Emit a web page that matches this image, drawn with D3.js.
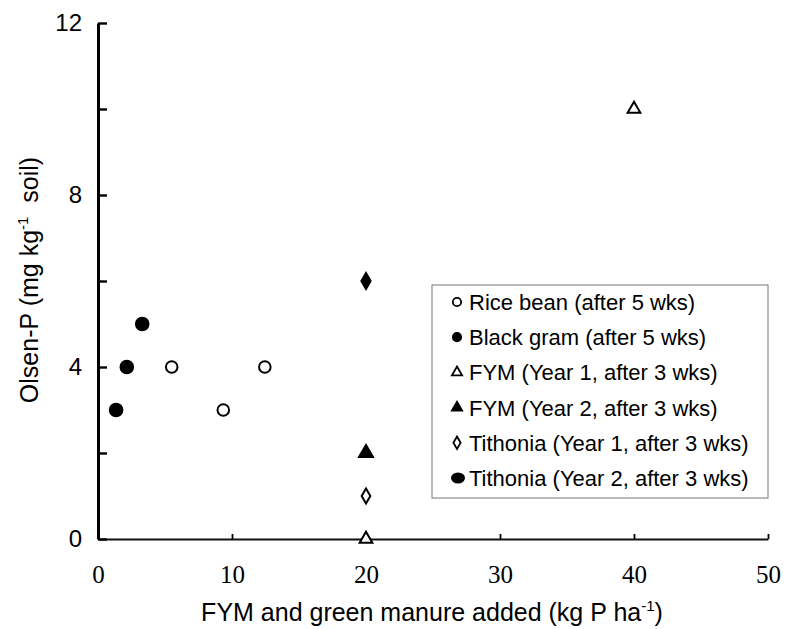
<!DOCTYPE html>
<html><head><meta charset="utf-8">
<script src="https://cdn.jsdelivr.net/npm/d3@7"></script>
<style>body{margin:0;background:#fff}svg{display:block}</style>
</head><body>
<svg id="c" width="785" height="629"></svg>
<script>
// Data
const riceBeanX = [5.5, 9.35, 12.45];
const riceBeanY = [4, 3, 4];
const blackGramX = [1.35, 2.15, 3.3];
const blackGramY = [3, 4, 5];
const fymY1X = [20, 40];
const fymY1Y = [0, 10];
const fymY2X = [20];
const fymY2Y = [2];
const tithY1X = [20];
const tithY1Y = [1];
const tithY2X = [20];
const tithY2Y = [6];
const xTicks = [0, 10, 20, 30, 40, 50];
const yTicks = [0, 4, 8, 12];
const yMinorTicks = [0, 2, 4, 6, 8, 10, 12];
const legendLabels = [
  "Rice bean (after 5 wks)",
  "Black gram  (after 5 wks)",
  "FYM (Year 1, after 3 wks)",
  "FYM (Year 2, after 3 wks)",
  "Tithonia (Year 1, after 3 wks)",
  "Tithonia (Year 2, after 3 wks)"
];

const sans = "Liberation Sans, Arial, sans-serif";
const svg = d3.select("#c");
const x = d3.scaleLinear().domain([0, 50]).range([98, 768]);
const y = d3.scaleLinear().domain([0, 12]).range([539, 23]);

// axes
const gx = svg.append("g").attr("transform", `translate(0,${y(0)})`)
  .call(d3.axisBottom(x).tickValues(xTicks).tickSizeInner(-5).tickSizeOuter(0).tickPadding(26).tickFormat(d3.format("d")));
gx.select(".domain").attr("stroke", "#111").attr("stroke-width", 2.2);
gx.selectAll(".tick line").attr("stroke-width", 1.8);
gx.selectAll("text").attr("font-family", "Liberation Serif, serif").attr("font-size", 25).attr("fill", "#000");

const gy = svg.append("g").attr("transform", `translate(${x(0)},0)`)
  .call(d3.axisLeft(y).tickValues(yMinorTicks).tickSizeInner(-9).tickSizeOuter(0).tickPadding(16)
    .tickFormat(d => yTicks.includes(d) ? d : ""));
gy.select(".domain").attr("stroke", "#000").attr("stroke-width", 3);
gy.selectAll(".tick line").attr("stroke-width", 2.4);
gy.selectAll("text").attr("font-family", sans).attr("font-size", 24).attr("fill", "#000");

// axis titles
svg.append("text").attr("x", 432).attr("y", 621).attr("text-anchor", "middle")
  .attr("font-family", sans).attr("font-size", 25)
  .html('FYM and green manure added (kg P ha<tspan dy="-10" font-size="15">-1</tspan><tspan dy="10">)</tspan>');
svg.append("text").attr("transform", "translate(38,280) rotate(-90)").attr("text-anchor", "middle")
  .attr("font-family", sans).attr("font-size", 25)
  .html('Olsen-P (mg kg<tspan dy="-10" font-size="15">-1</tspan><tspan dy="10">\u00a0\u00a0soil)</tspan>');

// markers
function pts(xs, ys) { return xs.map((v, i) => [v, ys[i]]); }
const series = [
  {data: pts(riceBeanX, riceBeanY), type: d3.symbolCircle, size: 105, fill: "#fff"},
  {data: pts(blackGramX, blackGramY), type: d3.symbolCircle, size: 125, fill: "#000"},
  {data: pts(fymY1X, fymY1Y), type: d3.symbolTriangle, size: 70, fill: "#fff"},
  {data: pts(fymY2X, fymY2Y), type: d3.symbolTriangle, size: 85, fill: "#000"},
  {data: pts(tithY1X, tithY1Y), type: d3.symbolDiamond, size: 65, fill: "#fff"},
  {data: pts(tithY2X, tithY2Y), type: d3.symbolDiamond, size: 75, fill: "#000"}
];

// legend
const lg = svg.append("g");
lg.append("rect").attr("x", 432).attr("y", 285).attr("width", 336).attr("height", 213)
  .attr("fill", "#fff").attr("stroke", "#777").attr("stroke-width", 1);
legendLabels.forEach((lab, i) => {
  const yy = 302 + i * 35.2;
  const s = series[i];
  if (i === 5) {
    lg.append("ellipse").attr("cx", 458).attr("cy", yy).attr("rx", 7).attr("ry", 5.5).attr("fill", "#000");
  } else {
    const sym = d3.symbol().type(s.type).size(s.type === d3.symbolCircle ? 55 : 45);
    lg.append("path").attr("d", sym()).attr("transform", `translate(457,${yy})`)
      .attr("fill", s.fill).attr("stroke", "#000").attr("stroke-width", 1.8);
  }
  lg.append("text").attr("x", 469).attr("y", yy).attr("dy", "0.36em")
    .attr("font-family", sans).attr("font-size", 22).text(lab);
});

series.forEach(s => {
  const sym = d3.symbol().type(s.type).size(s.size);
  svg.append("g").selectAll("path").data(s.data).join("path")
    .attr("d", sym()).attr("transform", d => `translate(${x(d[0])},${y(d[1])})`)
    .attr("fill", s.fill).attr("stroke", "#000").attr("stroke-width", 2);
});
</script>
</body></html>
